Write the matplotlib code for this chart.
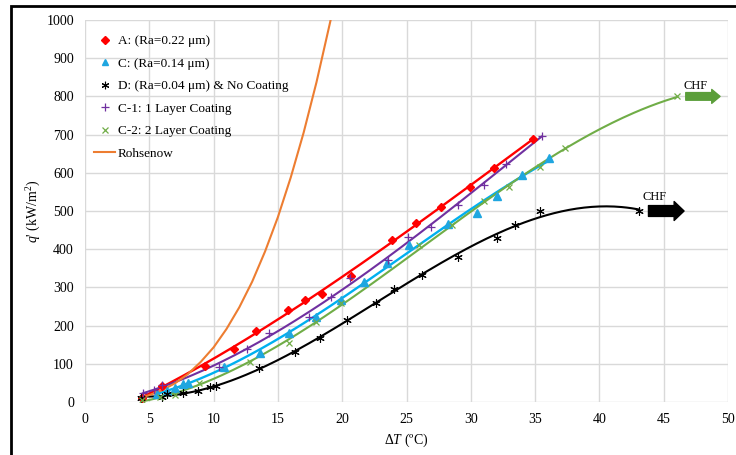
import numpy as np
import matplotlib
matplotlib.use("Agg")
import matplotlib.pyplot as plt
from matplotlib.patches import Rectangle, FancyArrowPatch
from matplotlib.lines import Line2D

plt.rcParams['font.family'] = ['Liberation Serif', 'DejaVu Serif']
plt.rcParams['mathtext.fontset'] = 'custom'
plt.rcParams['mathtext.rm'] = 'Liberation Serif'
plt.rcParams['mathtext.it'] = 'Liberation Serif:italic'

# ---- data ----
a_dt = [4.4, 6.0, 9.3, 11.6, 13.3, 15.8, 17.1, 18.4, 20.7, 23.9, 25.7, 27.7, 29.9, 31.8, 34.8]
a_q = [11, 43, 95, 140, 187, 241, 267, 284, 331, 425, 469, 511, 562, 612, 688]

c_dt = [5.6, 6.4, 7.0, 7.6, 8.0, 10.8, 13.6, 15.9, 18.0, 19.9, 21.7, 23.5, 25.2, 28.2, 30.5, 32.0, 34.0, 36.1]
c_q = [21, 29, 36, 47, 50, 92, 129, 180, 223, 266, 315, 363, 411, 465, 496, 540, 594, 640]

d_dt = [4.35, 6.0, 6.4, 7.6, 8.8, 9.7, 10.2, 13.5, 16.3, 18.3, 20.4, 22.6, 24.0, 26.2, 29.0, 32.0, 33.4, 35.4, 43.1]
d_q = [10, 14, 21, 24, 30, 38, 42, 88, 132, 168, 214, 258, 296, 332, 380, 430, 463, 500, 500]

c1_dt = [4.5, 5.4, 6.0, 10.4, 12.6, 14.3, 17.4, 19.1, 20.6, 23.6, 25.1, 26.9, 29.0, 31.0, 32.7, 35.5]
c1_q = [24, 31, 44, 92, 139, 180, 223, 274, 325, 372, 431, 457, 516, 568, 622, 697]

c2_dt = [4.4, 5.8, 7.0, 8.9, 12.8, 15.9, 18.0, 19.9, 26.0, 28.5, 31.0, 33.0, 35.4, 37.3, 46.0]
c2_q = [5, 12, 18, 49, 105, 154, 210, 258, 411, 463, 525, 562, 616, 664, 800]

rohs_dt = [4.3, 5, 6, 7, 8, 9, 10, 11, 12, 13, 14, 15, 16, 17, 18, 19.1]
rohs_q = [11, 18, 31, 49, 73, 105, 143, 191, 248, 315, 394, 484, 588, 705, 837, 1000]

labels = ["A: (Ra=0.22 μm)", "C: (Ra=0.14 μm)", "D: (Ra=0.04 μm) & No Coating",
          "C-1: 1 Layer Coating", "C-2: 2 Layer Coating", "Rohsenow"]
xticks = [0, 5, 10, 15, 20, 25, 30, 35, 40, 45, 50]
yticks = [0, 100, 200, 300, 400, 500, 600, 700, 800, 900, 1000]

fig = plt.figure(figsize=(7.36, 4.55), dpi=100)
ax = fig.add_axes([85/736, 1-402/455, (728-85)/736, (402-20)/455])

# outer frame
fig.patches.append(Rectangle((11/736, -0.2), 1.5, 1.2 - 6/455, transform=fig.transFigure,
                             fill=False, edgecolor='black', linewidth=2.0, zorder=0))

series = [
    (a_dt, a_q, '#FF0000', '#FF0000', 'D', 4.0, 1.7, 1.0),
    (c_dt, c_q, '#00B0F0', '#1FA6E0', '^', 5.5, 1.7, 1.0),
    (d_dt, d_q, '#000000', '#000000', (6, 2, 0), 6, 1.5, 0.8),
    (c1_dt, c1_q, '#7030A0', '#7030A0', '+', 6, 1.5, 0.9),
    (c2_dt, c2_q, '#70AD47', '#70AD47', 'x', 5, 1.5, 0.9),
]
handles = []
for (x, y, lc, mc, m, ms, lw, mew), lab in zip(series, labels[:5]):
    x = np.array(x, float); y = np.array(y, float)
    coef = np.polyfit(x, y, 3)
    xx = np.linspace(x.min(), x.max(), 200)
    ax.plot(xx, np.polyval(coef, xx), color=lc, lw=lw, zorder=3)
    ax.plot(x, y, linestyle='none', marker=m, color=mc, markersize=ms,
            markeredgewidth=mew, zorder=4)
    handles.append(Line2D([], [], linestyle='none', marker=m, color=mc,
                          markersize=ms*0.9, markeredgewidth=mew, label=lab))

ax.plot(rohs_dt, rohs_q, color='#ED7D31', lw=1.5, zorder=3)
handles.append(Line2D([], [], color='#ED7D31', lw=1.5, label=labels[5]))

# CHF arrows
arr1 = FancyArrowPatch((46.5, 800), (49.6, 800), arrowstyle='simple,head_length=0.6,head_width=1.0,tail_width=0.55',
                       mutation_scale=10, color='#5B9E3A', zorder=5)
ax.add_patch(arr1)
arr2 = FancyArrowPatch((43.6, 500), (46.8, 500), arrowstyle='simple,head_length=0.55,head_width=1.05,tail_width=0.6',
                       mutation_scale=13, color='#000000', zorder=5)
ax.add_patch(arr2)
ax.text(47.5, 828, "CHF", fontsize=9, ha='center', va='center')
ax.text(44.3, 537, "CHF", fontsize=9, ha='center', va='center')

ax.set_xlim(0, 50)
ax.set_ylim(0, 1000)
ax.set_xticks(xticks)
ax.set_yticks(yticks)
ax.grid(True, color='#D9D9D9', linewidth=1.0, zorder=0)
ax.set_axisbelow(True)
for s in ax.spines.values():
    s.set_visible(False)
ax.tick_params(length=0, labelsize=10, pad=8)
ax.set_xlabel(r"$\mathit{\Delta T}$ (ºC)", fontsize=10, labelpad=4)
ax.set_ylabel(r"$\mathit{q}$' (kW/m$^2$)", fontsize=10, labelpad=2)

leg = ax.legend(handles=handles, loc='upper left', bbox_to_anchor=(0.0, 0.985), frameon=False,
                fontsize=9.5, labelspacing=0.78, handlelength=1.6, handletextpad=0.2,
                borderaxespad=0.3)

fig.savefig("out.png", dpi=100)
